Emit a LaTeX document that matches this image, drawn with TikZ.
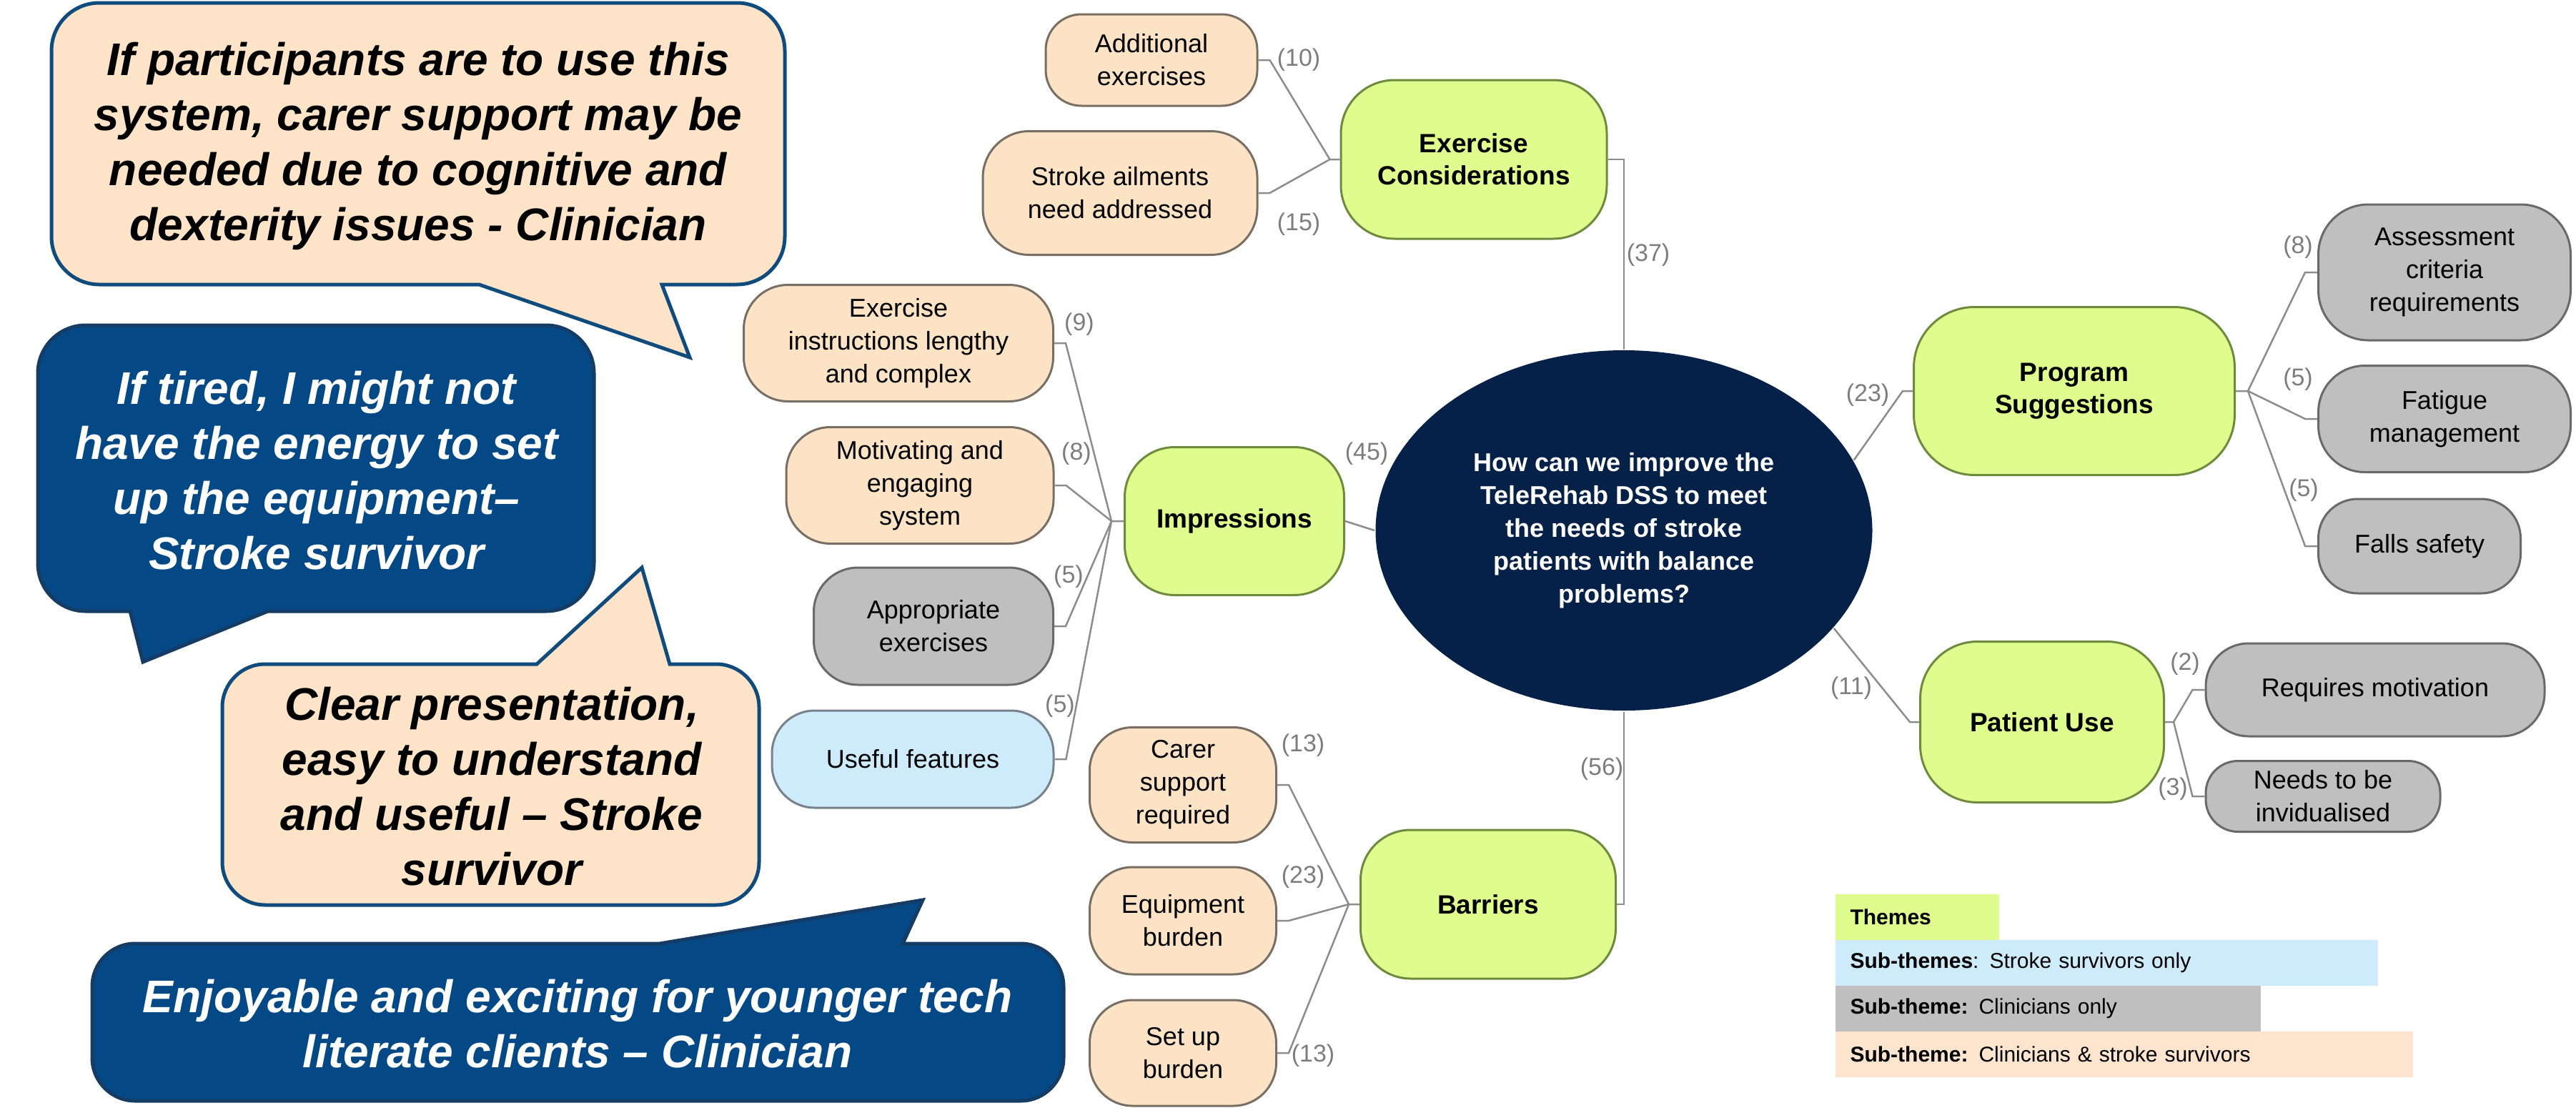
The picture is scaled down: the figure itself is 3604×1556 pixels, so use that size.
\documentclass[tikz,border=0pt]{standalone}
\usepackage{fontspec}
\setmainfont{Liberation Sans}
\usetikzlibrary{shapes.geometric}

\tikzset{every picture/.style={line width=3pt}}

\tikzset{
  theme/.style={draw={rgb,255:red,110;green,139;blue,61}, fill={rgb,255:red,223;green,253;blue,143}, align=center, inner sep=0, font=\bfseries\fontsize{37}{45}\selectfont},
  subboth/.style={draw={rgb,255:red,120;green,110;blue,100}, fill={rgb,255:red,252;green,227;blue,198}, align=center, inner sep=0, font=\fontsize{36}{46}\selectfont},
  subclin/.style={draw={rgb,255:red,105;green,105;blue,105}, fill={rgb,255:red,191;green,191;blue,191}, align=center, inner sep=0, font=\fontsize{36}{46}\selectfont},
  subsurv/.style={draw={rgb,255:red,120;green,130;blue,140}, fill={rgb,255:red,205;green,235;blue,250}, align=center, inner sep=0, font=\fontsize{36}{46}\selectfont},
  question/.style={ellipse, fill={rgb,255:red,6;green,33;blue,71}, text=white, align=center, inner sep=0, font=\bfseries\fontsize{36}{46}\selectfont},
  branch/.style={draw={rgb,255:red,140;green,140;blue,140}, line width=2.5pt},
  tally/.style={text={rgb,255:red,125;green,125;blue,125}, inner sep=0, font=\fontsize{34}{40}\selectfont},
  quotelight/.style={draw={rgb,255:red,15;green,75;blue,125}, fill={rgb,255:red,253;green,228;blue,200}, line width=5pt},
  quotedark/.style={draw={rgb,255:red,20;green,60;blue,100}, fill={rgb,255:red,4;green,73;blue,133}, line width=5pt},
  saylight/.style={align=center, inner sep=0, font=\bfseries\itshape\fontsize{64}{77}\selectfont},
  saydark/.style={saylight, text=white},
  legendrow/.style={anchor=west, inner xsep=21pt, inner ysep=0, minimum height=64, align=left, font=\fontsize{30}{36}\selectfont}
}

\begin{document}
\begin{tikzpicture}[x=1pt,y=1pt,yscale=-1,xscale=1]
	\path (0,0) rectangle (3604,1556); %set diagram size

	%Callout: carer support
	\draw [quotelight] (139,4) -- (1031,4) .. controls (1068,4) and (1098,34) .. (1098,71) -- (1098,331) .. controls (1098,368) and (1068,398) .. (1031,398) -- (926,398) -- (965,500) -- (670,398) -- (139,398) .. controls (102,398) and (72,368) .. (72,331) -- (72,71) .. controls (72,34) and (102,4) .. (139,4) -- cycle ;
	\node [saylight] (quote1) at (585,204) {If participants are to use this\\system, carer support may be\\needed due to cognitive and\\dexterity issues - Clinician};

	%Callout: energy
	\draw [quotedark] (120,455) -- (764,455) .. controls (801,455) and (831,485) .. (831,522) -- (831,788) .. controls (831,825) and (801,855) .. (764,855) -- (375,855) -- (200,926) -- (182,855) -- (120,855) .. controls (83,855) and (53,825) .. (53,788) -- (53,522) .. controls (53,485) and (83,455) .. (120,455) -- cycle ;
	\node [saydark] (quote2) at (443,658) {If tired, I might not\\have the energy to set\\up the equipment–\\Stroke survivor};

	%Callout: presentation
	\draw [quotelight] (371,929) -- (751,929) -- (898,794) -- (937,929) -- (1002,929) .. controls (1035,929) and (1062,956) .. (1062,989) -- (1062,1206) .. controls (1062,1239) and (1035,1266) .. (1002,1266) -- (371,1266) .. controls (338,1266) and (311,1239) .. (311,1206) -- (311,989) .. controls (311,956) and (338,929) .. (371,929) -- cycle ;
	\node [saylight] (quote3) at (688,1100) {Clear presentation,\\easy to understand\\and useful – Stroke\\survivor};

	%Callout: enjoyable
	\draw [quotedark] (189,1320) -- (923,1320) -- (1291,1259) -- (1263,1320) -- (1428,1320) .. controls (1461,1320) and (1488,1347) .. (1488,1380) -- (1488,1480) .. controls (1488,1513) and (1461,1540) .. (1428,1540) -- (189,1540) .. controls (156,1540) and (129,1513) .. (129,1480) -- (129,1380) .. controls (129,1347) and (156,1320) .. (189,1320) -- cycle ;
	\node [saydark] (quote4) at (808,1432) {Enjoyable and exciting for younger tech\\literate clients – Clinician};

	%Ellipse: question
	\node [question, minimum width=695, minimum height=504] (centre) at (2272,742) {How can we improve the\\TeleRehab DSS to meet\\the needs of stroke\\patients with balance\\problems?};

	%Rounded Rect: themes
	\node [theme, minimum width=372, minimum height=222, rounded corners=75] (exercise) at (2062,223) {Exercise\\Considerations};
	\node [theme, minimum width=307, minimum height=207, rounded corners=70] (impress) at (1727,729) {Impressions};
	\node [theme, minimum width=357, minimum height=208, rounded corners=70] (barriers) at (2082,1265) {Barriers};
	\node [theme, minimum width=449, minimum height=235, rounded corners=85] (program) at (2902,547) {Program\\Suggestions};
	\node [theme, minimum width=341, minimum height=225, rounded corners=80] (patient) at (2857,1010) {Patient Use};

	%Rounded Rect: sub-themes
	\node [subboth, minimum width=296, minimum height=128, rounded corners=50] (addex) at (1611,84) {Additional\\exercises};
	\node [subboth, minimum width=384, minimum height=173, rounded corners=65] (ailments) at (1567,270) {Stroke ailments\\need addressed};
	\node [subboth, minimum width=433, minimum height=163, rounded corners=62] (instr) at (1257,480) {Exercise\\instructions lengthy\\and complex};
	\node [subboth, minimum width=374, minimum height=163, rounded corners=62] (motiv) at (1287,679) {Motivating and\\engaging\\system};
	\node [subclin, minimum width=335, minimum height=164, rounded corners=62] (approp) at (1306,876) {Appropriate\\exercises};
	\node [subsurv, minimum width=394, minimum height=136, rounded corners=60] (useful) at (1277,1062) {Useful features};
	\node [subboth, minimum width=261, minimum height=161, rounded corners=60] (carer) at (1655,1098) {Carer\\support\\required};
	\node [subboth, minimum width=261, minimum height=150, rounded corners=60] (equip) at (1655,1288) {Equipment\\burden};
	\node [subboth, minimum width=261, minimum height=148, rounded corners=60] (setup) at (1655,1473) {Set up\\burden};
	\node [subclin, minimum width=353, minimum height=190, rounded corners=70] (assess) at (3420,381) {Assessment\\criteria\\requirements};
	\node [subclin, minimum width=353, minimum height=149, rounded corners=65] (fatigue) at (3420,586) {Fatigue\\management};
	\node [subclin, minimum width=283, minimum height=132, rounded corners=55] (falls) at (3385,764) {Falls safety};
	\node [subclin, minimum width=474, minimum height=130, rounded corners=60] (reqmot) at (3323,965) {Requires motivation};
	\node [subclin, minimum width=328, minimum height=99, rounded corners=45] (needs) at (3250,1114) {Needs to be\\invidualised};

	%Junctions
	\path (exercise.west) ++(-14,0) coordinate (jexercise);
	\path (impress.west) ++(-17,0) coordinate (jimpress);
	\path (barriers.west) ++(-15,0) coordinate (jbarriers);
	\path (program.west) ++(-14,0) coordinate (jprogin);
	\path (program.east) ++(17,0) coordinate (jprogram);
	\path (patient.west) ++(-13,0) coordinate (jpatin);
	\path (patient.east) ++(12,0) coordinate (jpatient);

	%Connectors
	\draw [branch] (addex.east) -- ++(16,0) -- (jexercise) -- (exercise.west);
	\draw [branch] (ailments.east) -- ++(16,0) -- (jexercise);
	\draw [branch] (exercise.east) -| (centre.north);
	\draw [branch] (instr.east) -- ++(16,0) -- (jimpress) -- (impress.west);
	\draw [branch] (motiv.east) -- ++(16,0) -- (jimpress);
	\draw [branch] (approp.east) -- ++(16,0) -- (jimpress);
	\draw [branch] (useful.east) -- ++(16,0) -- (jimpress);
	\draw [branch] (impress.east) -- (centre.west);
	\draw [branch] (carer.east) -- ++(16,0) -- (jbarriers) -- (barriers.west);
	\draw [branch] (equip.east) -- ++(16,0) -- (jbarriers);
	\draw [branch] (setup.east) -- ++(16,0) -- (jbarriers);
	\draw [branch] (barriers.east) -| (centre.south);
	\draw [branch] (centre.17) -- (jprogin) -- (program.west);
	\draw [branch] (assess.west) -- ++(-17,0) -- (jprogram) -- (program.east);
	\draw [branch] (fatigue.west) -- ++(-17,0) -- (jprogram);
	\draw [branch] (falls.west) -- ++(-17,0) -- (jprogram);
	\draw [branch] (centre.-25) -- (jpatin) -- (patient.west);
	\draw [branch] (reqmot.west) -- ++(-17,0) -- (jpatient) -- (patient.east);
	\draw [branch] (needs.west) -- ++(-17,0) -- (jpatient);

	%Counts
	\node [tally] (t-addex) at (1817,84) {(10)};
	\node [tally] (t-ailments) at (1817,314) {(15)};
	\node [tally] (t-exercise) at (2306,357) {(37)};
	\node [tally] (t-instr) at (1510,454) {(9)};
	\node [tally] (t-motiv) at (1506,635) {(8)};
	\node [tally] (t-impress) at (1912,635) {(45)};
	\node [tally] (t-approp) at (1495,807) {(5)};
	\node [tally] (t-useful) at (1483,988) {(5)};
	\node [tally] (t-carer) at (1823,1043) {(13)};
	\node [tally] (t-equip) at (1823,1227) {(23)};
	\node [tally] (t-setup) at (1837,1477) {(13)};
	\node [tally] (t-barriers) at (2241,1076) {(56)};
	\node [tally] (t-program) at (2613,553) {(23)};
	\node [tally] (t-assess) at (3215,346) {(8)};
	\node [tally] (t-fatigue) at (3215,531) {(5)};
	\node [tally] (t-falls) at (3223,686) {(5)};
	\node [tally] (t-patient) at (2590,963) {(11)};
	\node [tally] (t-reqmot) at (3057,929) {(2)};
	\node [tally] (t-needs) at (3040,1104) {(3)};

	%Legend
	\node [legendrow, fill={rgb,255:red,223;green,253;blue,143}, text width=187] (legthemes) at (2566,1283) {\textbf{Themes}};
	\node [legendrow, fill={rgb,255:red,205;green,235;blue,250}, text width=717] (legsurv) at (2566,1347) {\textbf{Sub-themes}: Stroke survivors only};
	\node [legendrow, fill={rgb,255:red,191;green,191;blue,191}, text width=553] (legclin) at (2566,1411) {\textbf{Sub-theme:} Clinicians only};
	\node [legendrow, fill={rgb,255:red,252;green,228;blue,206}, text width=766] (legboth) at (2566,1475) {\textbf{Sub-theme:} Clinicians \& stroke survivors};

\end{tikzpicture}
\end{document}
